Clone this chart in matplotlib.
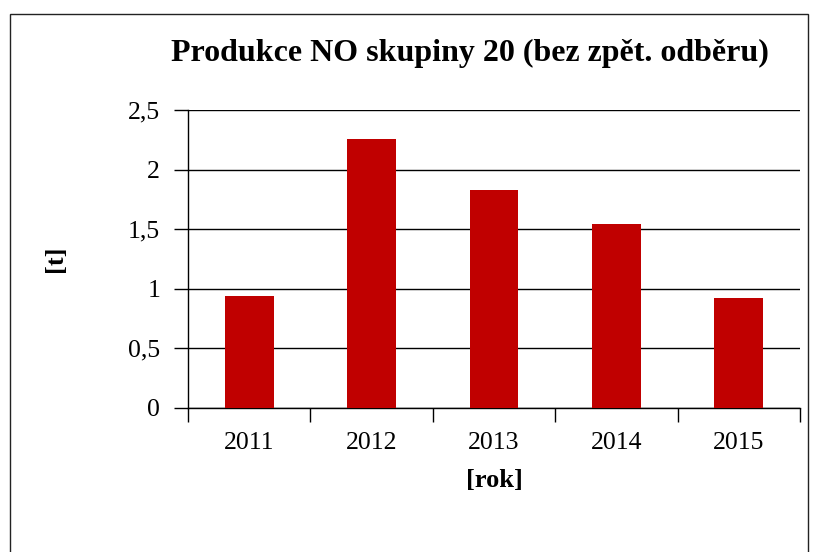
import matplotlib.pyplot as plt
from matplotlib.patches import Rectangle
from matplotlib.ticker import FuncFormatter, MultipleLocator

years = ['2011', '2012', '2013', '2014', '2015']
values = [0.94, 2.26, 1.83, 1.54, 0.92]

W, H = 813, 552
fig = plt.figure(figsize=(W / 100, H / 100), dpi=100)
plt.rcParams['font.family'] = ['Liberation Serif', 'DejaVu Serif']

# outer chart frame (cut off at the bottom in the original)
fig.patches.append(Rectangle((10 / W, -0.1), 798 / W, 1.1 - 14 / H,
                             transform=fig.transFigure, fill=False,
                             edgecolor='#222222', lw=1))

ax = fig.add_axes([188 / W, 1 - 408 / H, 612 / W, 298 / H])
xs = range(len(years))
ax.bar(xs, values, width=0.4, color='#C00000', zorder=3)

ax.set_xlim(-0.5, len(years) - 0.5)
ax.set_ylim(0, 2.5)
ax.yaxis.set_major_locator(MultipleLocator(0.5))
ax.yaxis.set_major_formatter(FuncFormatter(lambda v, p: f'{v:g}'.replace('.', ',')))
ax.grid(axis='y', color='black', lw=1, zorder=0)

ax.set_xticks(xs)
ax.set_xticklabels(years)
ax.set_xticks([i - 0.5 for i in range(len(years) + 1)], minor=True)
ax.tick_params(axis='x', which='major', length=0, pad=17, labelsize=18.5)
ax.tick_params(axis='x', which='minor', length=10, width=1, direction='out')
ax.tick_params(axis='y', length=10, width=1, direction='out', pad=10, labelsize=18.5)

for s in ['top', 'right']:
    ax.spines[s].set_visible(False)
for s in ['left', 'bottom']:
    ax.spines[s].set_linewidth(1)

ax.set_ylabel('[t]', fontsize=19, fontweight='bold', labelpad=44)
ax.set_xlabel('[rok]', fontsize=19, fontweight='bold', labelpad=11)

fig.text(470 / W, 1 - 53 / H, 'Produkce NO skupiny 20 (bez zpět. odběru)',
         ha='center', va='center', fontsize=23, fontweight='bold')

fig.savefig('out.png', dpi=100)
